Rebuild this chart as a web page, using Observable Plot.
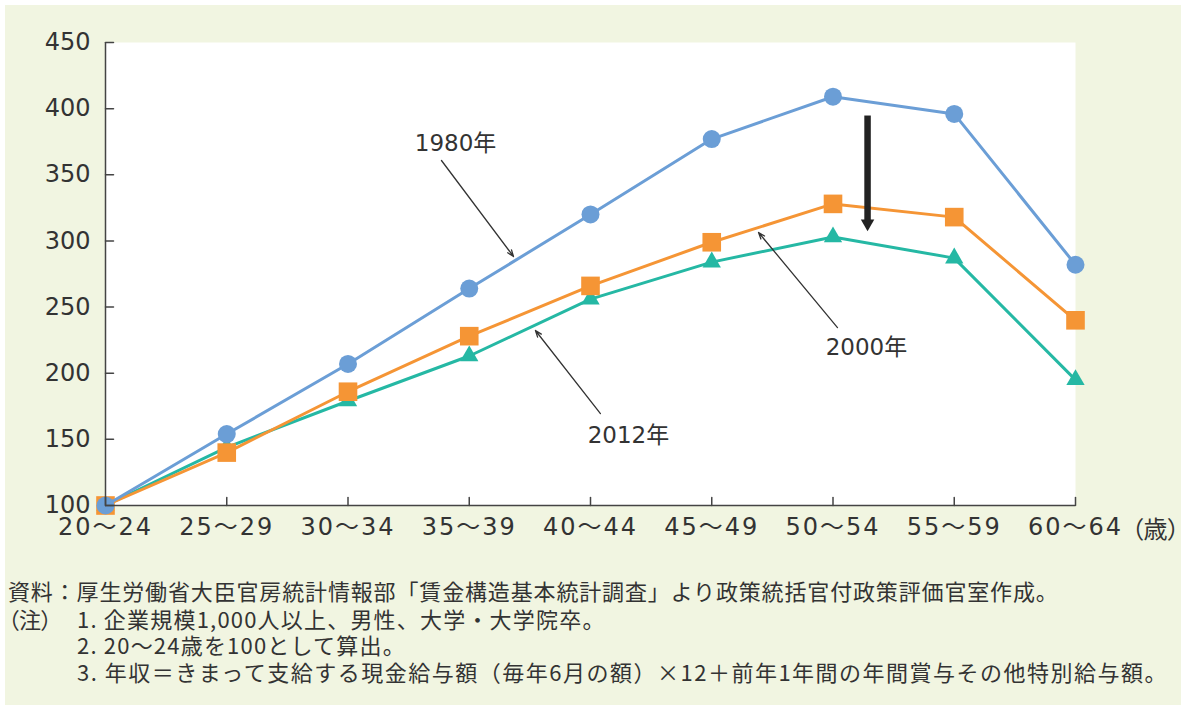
<!DOCTYPE html>
<html><head><meta charset="utf-8">
<script src="https://cdn.jsdelivr.net/npm/d3@7"></script>
<script src="https://cdn.jsdelivr.net/npm/@observablehq/plot@0.6"></script>
<style>
body{margin:0;background:#fff;}
#panel{position:absolute;left:5px;top:5px;width:1176px;height:700px;background:#f1f5e1;}
#chart{position:absolute;left:0;top:0;}
.cap{position:absolute;font-family:"Noto Sans CJK JP",sans-serif;font-size:22px;color:#333;white-space:nowrap;line-height:1;}
</style></head><body>
<div id="panel"></div><div id="chart"></div><div id="caption"></div>
<script>
// categories (age groups)
const ages = ["20～24","25～29","30～34","35～39","40～44","45～49","50～54","55～59","60～64"];
const unitLabel = "（歳）";
// series values (20～24 = 100)
const y1980 = [100,154,207,264,320,377,409,396,282];
const y2000 = [100,140,186,228,266,299,328,318,240];
const y2012 = [100,144,179,213,256,284,303,287,195];
const yTicks = [100,150,200,250,300,350,400,450];
// annotations (in data units: category index, value)
const labelText = ["1980年","2000年","2012年"];
const labelX = [2.887, 6.276, 4.313];
const labelY = [373.6, 219.4, 152.9];
const ptrX1 = [2.771, 6.037, 4.082], ptrY1 = [360.8, 234.5, 169.5];
const ptrX2 = [3.365, 5.386, 3.546], ptrY2 = [288.2, 306.4, 232.3];
const bigX = [6.285], bigY1 = [394.8], bigY2 = [315], bigHeadY = [313.2];
// caption
const capLines = [
  "資料：厚生労働省大臣官房統計情報部「賃金構造基本統計調査」より政策統括官付政策評価官室作成。",
  "（注）",
  "1.  企業規模1,000人以上、男性、大学・大学院卒。",
  "2. 20～24歳を100として算出。",
  "3.  年収＝きまって支給する現金給与額（毎年6月の額）×12＋前年1年間の年間賞与その他特別給与額。"
];

const BLUE = "#6b9ed6", ORANGE = "#f59535", TEAL = "#25b8a4", INK = "#333";
const seriesDefs = [
  {name: "2012年", values: y2012, color: TEAL, symbol: "triangle", r: 6.8},
  {name: "2000年", values: y2000, color: ORANGE, symbol: "square", r: 10.5},
  {name: "1980年", values: y1980, color: BLUE, symbol: "circle", r: 9}
];
const idx = ages.map((d, i) => i);
const tickShape = {draw(ctx, l) { ctx.moveTo(0, 0); ctx.lineTo(0, -l); }};

const seriesMarks = seriesDefs.flatMap(s => {
  const rows = s.values.map((v, i) => ({i, v}));
  return [
    Plot.line(rows, {x: "i", y: "v", stroke: s.color, strokeWidth: 3}),
    Plot.dot(rows, {x: "i", y: "v", fill: s.color, symbol: () => s.symbol, r: s.r, stroke: "none"})
  ];
});
const labels = labelText.map((t, k) => ({t, x: labelX[k], y: labelY[k]}));
const ptrs = ptrX1.map((d, k) => ({x1: ptrX1[k], y1: ptrY1[k], x2: ptrX2[k], y2: ptrY2[k]}));
const big = bigX.map((d, k) => ({x: bigX[k], y1: bigY1[k], y2: bigY2[k], yh: bigHeadY[k]}));

const chart = Plot.plot({
  width: 1184, height: 560,
  marginTop: 42, marginBottom: 55, marginLeft: 105, marginRight: 109,
  style: {background: "transparent", fontFamily: '"DejaVu Sans","Noto Sans CJK JP",sans-serif', fontSize: "24px", color: INK, overflow: "visible"},
  x: {type: "linear", domain: [0, 8], axis: null},
  y: {domain: [100, 450], axis: null},
  marks: [
    Plot.frame({fill: "white", stroke: "none"}),
    ...seriesMarks,
    Plot.arrow(ptrs, {x1: "x1", y1: "y1", x2: "x2", y2: "y2", stroke: INK, strokeWidth: 1.3, headLength: 8, headAngle: 40}),
    Plot.link(big, {x1: "x", x2: "x", y1: "y1", y2: "y2", stroke: "#222", strokeWidth: 6.5}),
    Plot.dot(big, {x: "x", y: "yh", symbol: "triangle", rotate: 180, r: 5, fill: "#222", stroke: "none"}),
    Plot.text(labels, {x: "x", y: "y", text: "t", fill: INK, fontSize: 23}),
    Plot.ruleX([0], {stroke: "#444", strokeWidth: 1.5}),
    Plot.ruleY([100], {stroke: "#444", strokeWidth: 1.5}),
    Plot.vector(yTicks, {x: 0, y: d => d, length: 8, rotate: 90, anchor: "start", shape: tickShape, stroke: "#444", strokeWidth: 1.5}),
    Plot.vector(idx, {x: d => d, y: 100, length: 8, rotate: 0, anchor: "start", shape: tickShape, stroke: "#444", strokeWidth: 1.5}),
    Plot.axisY(yTicks, {tickSize: 0, tickPadding: 15, fill: INK}),
    Plot.axisX(idx, {tickSize: 0, tickPadding: 12, tickFormat: i => ages[i], fill: INK}),
    Plot.text([unitLabel], {x: 8, y: 100, dx: 56, dy: 25, textAnchor: "start", fill: INK})
  ]
});
document.getElementById("chart").appendChild(chart);
d3.select(chart).selectAll('[aria-label="x-axis tick label"] text').style("letter-spacing", "2px");
d3.select(chart).selectAll("text").filter(function() { return this.textContent === unitLabel; })
  .style("font-feature-settings", '"palt"');

const capTop = [579, 607, 607, 633, 660];
const capLeft = [8, 8, 77, 77, 77];
const capSpacing = [0.85, 0, 1.2, 1.2, 1.5];
const cap = document.getElementById("caption");
capLines.forEach((t, k) => {
  const d = document.createElement("div");
  d.className = "cap";
  d.style.left = capLeft[k] + "px";
  d.style.top = capTop[k] + "px";
  d.style.letterSpacing = capSpacing[k] + "px";
  if (k === 1) d.style.fontFeatureSettings = '"palt"';
  d.textContent = t;
  cap.appendChild(d);
});
</script>
</body></html>
